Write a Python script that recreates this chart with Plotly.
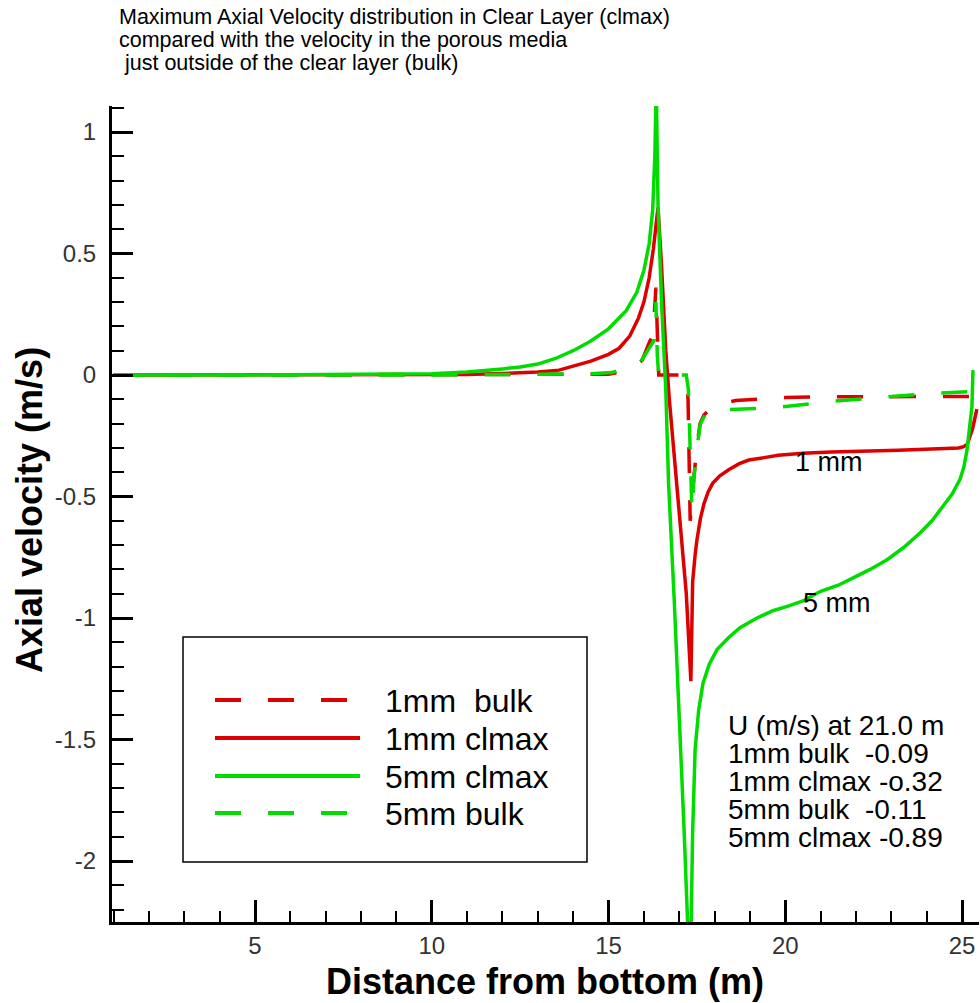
import plotly.graph_objects as go

# ---------------- data ----------------
x_1mm_bulk = [1.0, 5.0, 10.0, 14.0, 15.0, 15.6, 15.95, 16.17, 16.26, 16.34, 16.38, 16.42,
              16.8, 17.2, 17.25, 17.31, 17.38, 17.45, 17.52, 17.59, 17.7, 17.87, 18.15, 18.6,
              19.3, 20.0, 21.0, 23.0, 25.45]
y_1mm_bulk = [0, 0, 0, 0, 0.003, 0.02, 0.06, 0.14, 0.16, 0.36, 0.1, 0.0,
              0.0, 0.0, -0.1, -0.6, -0.47, -0.36, -0.27, -0.2, -0.165, -0.14, -0.12, -0.105,
              -0.098, -0.093, -0.09, -0.088, -0.088]

x_1mm_clmax = [1.0, 5.0, 10.0, 11.0, 12.0, 13.0, 13.6, 14.0, 14.5, 15.0, 15.3, 15.6, 15.85,
               16.0, 16.15, 16.27, 16.35, 16.40, 16.5, 16.62, 16.72, 17.0, 17.2, 17.33, 17.38,
               17.45, 17.5, 17.6, 17.7, 17.82, 17.95, 18.15, 18.4, 18.7, 18.97, 19.4, 19.8,
               20.5, 21.3, 23.2, 24.9, 25.05, 25.15, 25.3, 25.42]
y_1mm_clmax = [0, 0, 0, 0.002, 0.006, 0.012, 0.02, 0.035, 0.057, 0.085, 0.11, 0.16, 0.235,
               0.3, 0.4, 0.52, 0.62, 0.69, 0.45, 0.1, -0.1, -0.55, -0.9, -1.26, -0.85,
               -0.74, -0.68, -0.59, -0.53, -0.48, -0.445, -0.415, -0.39, -0.365, -0.35, -0.34, -0.33,
               -0.322, -0.317, -0.31, -0.30, -0.295, -0.285, -0.22, -0.14]

x_5mm_clmax = [1.0, 5.0, 10.0, 11.0, 12.0, 12.5, 13.0, 13.5, 14.0, 14.5, 15.0, 15.5, 15.8,
               16.0, 16.15, 16.25, 16.31, 16.35, 16.40, 16.50, 16.62, 16.70, 16.86, 17.00,
               17.14, 17.25, 17.31, 17.38, 17.45, 17.55, 17.67, 17.85, 18.07, 18.4, 18.72,
               19.2, 19.65, 20.1, 20.5, 21.0, 21.5, 21.92, 22.4, 22.88, 23.35, 23.81, 24.15,
               24.46, 24.72, 24.94, 25.05, 25.14, 25.22, 25.28, 25.31]
y_5mm_clmax = [0, 0, 0.005, 0.012, 0.025, 0.033, 0.045, 0.068, 0.1, 0.14, 0.19, 0.265, 0.34,
               0.43, 0.54, 0.68, 0.9, 1.2, 0.7, 0.3, -0.06, -0.45, -0.93, -1.38,
               -1.88, -2.3, -2.5, -1.88, -1.54, -1.38, -1.27, -1.19, -1.13, -1.08, -1.04,
               -1.0, -0.97, -0.95, -0.93, -0.89, -0.865, -0.835, -0.8, -0.76, -0.71, -0.65, -0.6,
               -0.54, -0.49, -0.43, -0.38, -0.31, -0.22, -0.13, 0.02]

x_5mm_bulk = [1.0, 5.0, 10.0, 14.4, 15.1, 15.89, 16.26, 16.30, 16.34, 16.38, 16.42, 16.8, 17.2,
              17.26, 17.31, 17.36, 17.42, 17.5, 17.6, 17.75, 17.96, 18.65, 19.7, 21.2, 22.7,
              24.2, 25.3]
y_5mm_bulk = [0, 0, 0, 0.005, 0.01, 0.05, 0.13, 0.145, 0.3, 0.08, 0.0, 0.0, 0.0,
              -0.06, -0.3, -0.56, -0.42, -0.3, -0.2, -0.16, -0.145, -0.14, -0.135, -0.11, -0.092,
              -0.075, -0.068]

series_names = ["1mm\u00a0\u00a0bulk", "1mm clmax", "5mm clmax", "5mm bulk"]

y_tickvals = [-2, -1.5, -1, -0.5, 0, 0.5, 1]
y_ticktext = ["-2", "-1.5", "-1", "-0.5", "0", "0.5", "1"]

title_lines = ["Maximum Axial Velocity distribution in Clear Layer (clmax)",
               "compared with the velocity in the porous media",
               "\u00a0just outside of the clear layer (bulk)"]

info_lines = ["U (m/s) at 21.0 m",
              "1mm bulk\u00a0\u00a0-0.09",
              "1mm clmax -o.32",
              "5mm bulk\u00a0\u00a0-0.11",
              "5mm clmax -0.89"]

RED = "#dc0000"
GREEN = "#00dc00"
FONT = "Liberation Sans, Arial, sans-serif"

# ---------------- layout geometry (pixels) ----------------
W, H = 980, 1003
ML, MR, MT, MB = 112, 1, 106, 81
PW, PH = W - ML - MR, H - MT - MB


def px(xp):
    return (xp - ML) / PW


def py(yp):
    return (H - MB - yp) / PH


fig = go.Figure()
traces = [
    (x_1mm_bulk, y_1mm_bulk, RED, "26px,27px", series_names[0]),
    (x_1mm_clmax, y_1mm_clmax, RED, "solid", series_names[1]),
    (x_5mm_clmax, y_5mm_clmax, GREEN, "solid", series_names[2]),
    (x_5mm_bulk, y_5mm_bulk, GREEN, "26px,27px", series_names[3]),
]
for xs, ys, col, dash, name in traces:
    fig.add_trace(go.Scatter(x=xs, y=ys, mode="lines", name=name, showlegend=False,
                             line=dict(color=col, width=3.5, dash=dash)))

annotations = []
# title
for i, t in enumerate(title_lines):
    annotations.append(dict(x=px(117), y=py(17 + 23 * i), xref="paper", yref="paper",
                            text=t, showarrow=False, xanchor="left", yanchor="middle",
                            font=dict(family=FONT, size=21.5, color="black")))
# axis titles
annotations.append(dict(x=px(545), y=py(981), xref="paper", yref="paper",
                        text="<b>Distance from bottom (m)</b>", showarrow=False,
                        xanchor="center", yanchor="middle",
                        font=dict(family=FONT, size=36, color="black")))
annotations.append(dict(x=px(29), y=py(510), xref="paper", yref="paper",
                        text="<b>Axial velocity (m/s)</b>", showarrow=False, textangle=-90,
                        xanchor="center", yanchor="middle",
                        font=dict(family=FONT, size=36, color="black")))
# curve labels (data coordinates)
annotations.append(dict(x=21.25, y=-0.36, xref="x", yref="y", text="1 mm", showarrow=False,
                        font=dict(family=FONT, size=27, color="black")))
annotations.append(dict(x=21.45, y=-0.94, xref="x", yref="y", text="5 mm", showarrow=False,
                        font=dict(family=FONT, size=27, color="black")))
# info block
for i, t in enumerate(info_lines):
    annotations.append(dict(x=px(726), y=py(725 + 28.2 * i), xref="paper", yref="paper",
                            text=t, showarrow=False, xanchor="left", yanchor="middle",
                            font=dict(family=FONT, size=28, color="black")))

# custom legend
shapes = [dict(type="rect", xref="paper", yref="paper", x0=px(183), x1=px(587),
               y0=py(862), y1=py(637), line=dict(color="black", width=1.5),
               fillcolor="rgba(0,0,0,0)")]
leg_y = [700, 738, 776, 813]
for (xs, ys, col, dash, name), ly in zip(traces, leg_y):
    shapes.append(dict(type="line", xref="paper", yref="paper", x0=px(215), x1=px(360),
                       y0=py(ly), y1=py(ly), line=dict(color=col, width=4, dash=dash)))
    annotations.append(dict(x=px(383), y=py(ly + 1), xref="paper", yref="paper", text=name,
                            showarrow=False, xanchor="left", yanchor="middle",
                            font=dict(family=FONT, size=32, color="black")))

axis_common = dict(showline=True, linecolor="black", linewidth=3, ticks="inside",
                   tickcolor="black", tickwidth=2.5, showgrid=False, zeroline=False,
                   mirror=False, tickfont=dict(family=FONT, size=24, color="#333"))

fig.update_layout(
    width=W, height=H,
    margin=dict(l=ML, r=MR, t=MT, b=MB, pad=0),
    paper_bgcolor="white", plot_bgcolor="white",
    showlegend=False,
    xaxis=dict(range=[0.955, 25.48], tickmode="linear", tick0=0, dtick=5, ticklen=22,
               ticklabelstandoff=0,
               minor=dict(ticks="inside", ticklen=11, tickwidth=2, tickcolor="black",
                          tickmode="linear", tick0=0, dtick=1),
               **axis_common),
    yaxis=dict(range=[-2.251, 1.107], tickmode="array", tickvals=y_tickvals,
               ticktext=y_ticktext, ticklen=21, ticklabelstandoff=8,
               minor=dict(ticks="inside", ticklen=12, tickwidth=2, tickcolor="black",
                          tickmode="linear", tick0=0, dtick=0.1),
               **axis_common),
    annotations=annotations,
    shapes=shapes,
)

fig.write_html("out.html")
